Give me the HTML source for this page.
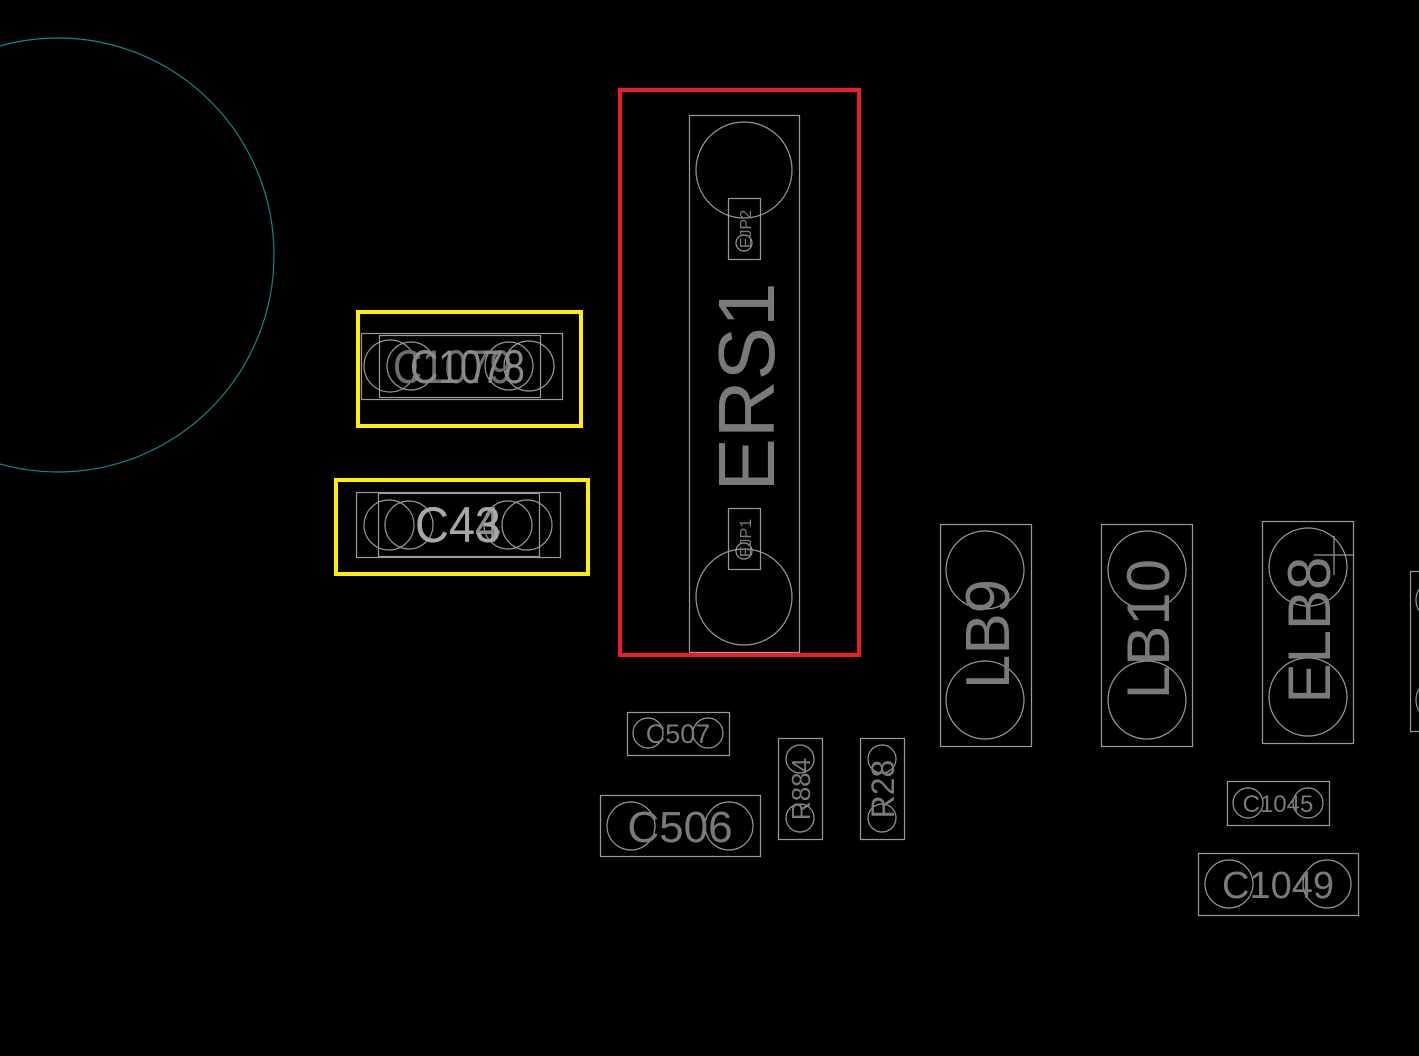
<!DOCTYPE html>
<html><head><meta charset="utf-8"><style>
html,body{margin:0;padding:0;background:#000;}
svg{display:block;}
text{font-family:"Liberation Sans",sans-serif;}
</style></head><body>
<svg width="1419" height="1056" viewBox="0 0 1419 1056" xmlns="http://www.w3.org/2000/svg">
<rect width="1419" height="1056" fill="#000"/>
<ellipse cx="58" cy="255" rx="216" ry="217" fill="none" stroke="#0b8a86" stroke-width="1.2"/>

<g fill="none" stroke="#9a9a9a" stroke-width="1.2">
<rect x="689.5" y="115.5" width="110" height="537"/>
<circle cx="744" cy="170" r="48"/>
<circle cx="744" cy="597" r="48"/>
<rect x="728.5" y="198.5" width="32" height="61"/>
<rect x="728.5" y="508.5" width="32" height="61"/>
<circle cx="744" cy="243" r="8"/>
<circle cx="744" cy="551" r="8"/>
<rect x="361.5" y="333.5" width="201" height="66"/>
<rect x="379.5" y="335.5" width="161" height="62"/>
<circle cx="390" cy="366" r="26"/><circle cx="411" cy="366" r="24"/>
<circle cx="509" cy="366" r="24"/><circle cx="529" cy="366" r="25"/>
<rect x="356.5" y="492.5" width="204" height="65"/>
<rect x="378.5" y="493.5" width="161" height="63"/>
<circle cx="389" cy="525" r="25"/><circle cx="409" cy="525" r="24"/>
<circle cx="508" cy="525" r="24"/><circle cx="527" cy="525" r="25"/>
<rect x="940.5" y="524.5" width="91" height="222"/>
<circle cx="985" cy="570" r="39"/><circle cx="985" cy="700" r="39"/>
<rect x="1101.5" y="524.5" width="91" height="222"/>
<circle cx="1147" cy="570" r="39"/><circle cx="1147" cy="700" r="39"/>
<rect x="1262.5" y="521.5" width="91" height="222"/>
<circle cx="1308" cy="567" r="39"/><circle cx="1308" cy="697" r="39"/>
<line x1="1314" y1="555" x2="1353" y2="555"/><line x1="1334" y1="536" x2="1334" y2="575"/>
<rect x="1410.5" y="571.5" width="20" height="160"/>
<circle cx="1436" cy="600" r="20"/><circle cx="1436" cy="700" r="20"/>
<rect x="627.5" y="712.5" width="102" height="43"/>
<circle cx="648" cy="733" r="15"/><circle cx="708" cy="733" r="15"/>
<rect x="600.5" y="795.5" width="160" height="61"/>
<circle cx="631" cy="826" r="24"/><circle cx="729" cy="826" r="24"/>
<rect x="778.5" y="738.5" width="44" height="101"/>
<circle cx="800" cy="759" r="14"/><circle cx="800" cy="818" r="14"/>
<rect x="860.5" y="738.5" width="44" height="101"/>
<circle cx="882" cy="759" r="14"/><circle cx="882" cy="818" r="14"/>
<rect x="1227.5" y="781.5" width="102" height="44"/>
<circle cx="1248" cy="803" r="15"/><circle cx="1308" cy="803" r="15"/>
<rect x="1198.5" y="853.5" width="160" height="62"/>
<circle cx="1229" cy="884" r="24"/><circle cx="1327" cy="884" r="24"/>
</g>

<rect x="620" y="90" width="239" height="565" fill="none" stroke="#ee1c24" stroke-width="4"/>
<rect x="358" y="312" width="223" height="114" fill="none" stroke="#ffef00" stroke-width="4"/>
<rect x="336" y="480" width="252" height="94" fill="none" stroke="#ffef00" stroke-width="4"/>

<g fill="#7a7a7a" text-anchor="middle">
<text transform="translate(774,387) rotate(-90)" font-size="80">ERS1</text>
<text transform="translate(751,229) rotate(-90)" font-size="16">EJP2</text>
<text transform="translate(751,538) rotate(-90)" font-size="16">EJP1</text>
</g>
<g fill="#7a7a7a">
<text x="393" y="383" font-size="47" fill="#6e6e6e" textLength="119" lengthAdjust="spacingAndGlyphs">C1079</text>
<text x="410" y="383" font-size="47" fill="#8a8a8a" textLength="115" lengthAdjust="spacingAndGlyphs">C1078</text>
<text x="415" y="542" font-size="50" fill="#8c8c8c" textLength="86" lengthAdjust="spacingAndGlyphs">C44</text>
<text x="415" y="542" font-size="50" fill="#a8a8a8" textLength="86" lengthAdjust="spacingAndGlyphs">C43</text>
</g>
<g fill="#7a7a7a" text-anchor="middle">
<text transform="translate(1009,634) rotate(-90)" font-size="62">LB9</text>
<text transform="translate(1169,629) rotate(-90)" font-size="60">LB10</text>
<text transform="translate(1330,630) rotate(-90)" font-size="60">ELB8</text>
<text x="678" y="743" font-size="27">C507</text>
<text x="680" y="842" font-size="44">C506</text>
<text transform="translate(810,789) rotate(-90)" font-size="26">R884</text>
<text transform="translate(894,789) rotate(-90)" font-size="32">R28</text>
<text x="1278" y="812" font-size="24">C1045</text>
<text x="1278" y="898" font-size="38">C1049</text>
</g>
</svg>
</body></html>
